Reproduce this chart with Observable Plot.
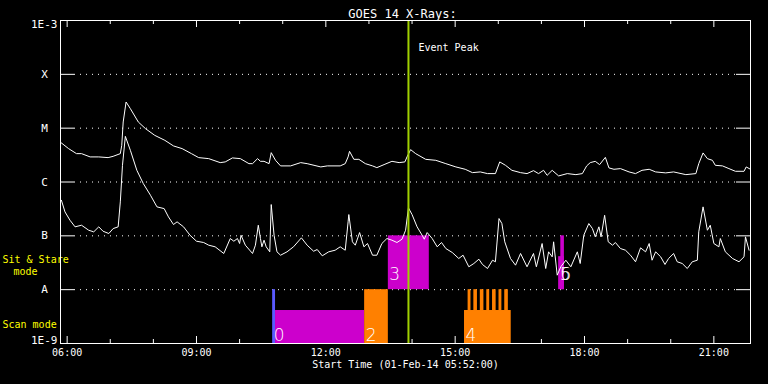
<!DOCTYPE html>
<html><head><meta charset="utf-8">
<script src="https://cdn.jsdelivr.net/npm/d3@7"></script>
<script src="https://cdn.jsdelivr.net/npm/@observablehq/plot@0.6"></script>
<style>html,body{margin:0;padding:0;background:#000;} svg{display:block}</style>
</head><body><div id="chart"></div>
<script>
// GOES 14 long channel (1-8 Å), log10 flux (W/m^2)
const longTime = ["05:52","06:02","06:13","06:20","06:32","06:44","06:57","07:04","07:14","07:16",
"07:18","07:22","07:28","07:39","07:49","08:02","08:16","08:28","08:40","08:53",
"09:03","09:17","09:33","09:40","09:50","10:01","10:13","10:18","10:25","10:29",
"10:34","10:41","10:44","10:50","10:57","11:11","11:25","11:34","11:53","12:02",
"12:20","12:27","12:31","12:33","12:39","12:46","12:55","13:05","13:11","13:21",
"13:32","13:42","13:50","13:53","13:58","14:05","14:19","14:33","14:47","15:01",
"15:14","15:24","15:35","15:45","15:56","16:02","16:10","16:19","16:31","16:40",
"16:49","16:56","17:03","17:08","17:15","17:24","17:36","17:48","17:57","18:03",
"18:08","18:15","18:21","18:29","18:34","18:41","18:50","19:02","19:11","19:20",
"19:30","19:39","19:53","20:04","20:21","20:35","20:39","20:45","20:51","20:58",
"21:02","21:12","21:21","21:30","21:42","21:45","21:51"];
const longLog = [-5.275,-5.38,-5.473,-5.473,-5.534,-5.534,-5.547,-5.523,-5.473,-5.319,
-4.885,-4.514,-4.638,-4.885,-5.009,-5.134,-5.226,-5.33,-5.38,-5.473,
-5.547,-5.566,-5.64,-5.627,-5.553,-5.566,-5.659,-5.659,-5.566,-5.616,
-5.616,-5.659,-5.455,-5.597,-5.701,-5.701,-5.64,-5.659,-5.72,-5.701,
-5.701,-5.659,-5.534,-5.43,-5.579,-5.579,-5.659,-5.701,-5.733,-5.677,
-5.616,-5.64,-5.627,-5.534,-5.399,-5.473,-5.579,-5.597,-5.659,-5.72,
-5.764,-5.826,-5.813,-5.844,-5.844,-5.627,-5.69,-5.783,-5.826,-5.844,
-5.789,-5.844,-5.783,-5.876,-5.783,-5.887,-5.844,-5.863,-5.844,-5.701,
-5.64,-5.616,-5.677,-5.542,-5.738,-5.764,-5.751,-5.813,-5.844,-5.783,
-5.764,-5.813,-5.831,-5.813,-5.863,-5.844,-5.659,-5.46,-5.566,-5.597,
-5.69,-5.701,-5.751,-5.801,-5.801,-5.72,-5.764];

// GOES 14 short channel (0.5-4 Å), log10 flux (W/m^2)
const shortTime = ["05:52","05:57","06:04","06:11","06:20","06:30","06:37","06:44","06:50","06:58",
"07:04","07:11","07:14","07:17","07:21","07:28","07:37","07:46","07:56","08:05",
"08:15","08:21","08:28","08:33","08:42","08:51","09:00","09:10","09:17","09:26",
"09:38","09:47","09:52","09:57","10:00","10:02","10:08","10:18","10:22","10:26",
"10:29","10:31","10:34","10:37","10:42","10:44","10:48","10:52","10:57","11:06",
"11:15","11:26","11:34","11:43","11:48","11:55","12:04","12:13","12:20","12:27",
"12:31","12:32","12:37","12:41","12:47","12:53","12:58","13:05","13:11","13:18",
"13:25","13:32","13:39","13:46","13:51","13:55","14:00","14:07","14:14","14:17",
"14:21","14:28","14:35","14:41","14:47","14:56","15:05","15:11","15:19","15:26",
"15:33","15:38","15:45","15:52","15:56","16:01","16:05","16:09","16:17","16:24",
"16:31","16:40","16:49","16:53","17:01","17:06","17:10","17:15","17:17","17:22",
"17:27","17:34","17:41","17:50","17:54","17:59","18:06","18:11","18:15","18:20",
"18:23","18:28","18:33","18:39","18:43","18:50","18:57","19:04","19:11","19:18",
"19:25","19:30","19:34","19:39","19:46","19:52","19:57","20:04","20:09","20:16",
"20:23","20:30","20:37","20:39","20:45","20:51","20:55","21:00","21:07","21:09",
"21:16","21:26","21:35","21:42","21:44","21:49"];
const shortLog = [-6.34,-6.555,-6.711,-6.833,-6.803,-6.896,-6.926,-6.833,-6.915,-6.957,
-6.865,-6.833,-6.369,-5.69,-5.152,-5.412,-5.783,-6.03,-6.247,-6.462,
-6.494,-6.648,-6.79,-6.74,-6.833,-6.989,-7.1,-7.124,-7.174,-7.204,
-7.328,-7.05,-7.1,-7.05,-7.143,-6.989,-7.174,-7.328,-7.174,-6.803,
-7.05,-7.204,-7.081,-7.204,-7.297,-6.419,-6.989,-7.297,-7.36,-7.297,
-7.204,-7.037,-7.174,-7.286,-7.254,-7.371,-7.297,-7.267,-7.204,-7.267,
-6.74,-6.605,-7.111,-7.174,-6.939,-7.204,-7.143,-7.36,-7.36,-7.143,
-7.05,-7.081,-7.124,-7.063,-6.896,-6.481,-6.605,-6.833,-6.989,-7.063,
-6.939,-7.05,-7.204,-7.124,-7.236,-7.31,-7.421,-7.36,-7.575,-7.514,
-7.434,-7.532,-7.607,-7.453,-7.482,-6.679,-6.772,-7.111,-7.421,-7.545,
-7.328,-7.575,-7.328,-7.575,-7.143,-7.607,-7.297,-7.39,-7.111,-7.731,
-7.575,-7.453,-7.575,-7.297,-7.514,-6.989,-6.772,-6.865,-7.019,-6.833,
-7.019,-6.618,-7.111,-7.174,-7.124,-7.236,-7.267,-7.36,-7.482,-7.223,
-7.297,-7.143,-7.453,-7.297,-7.39,-7.532,-7.421,-7.328,-7.482,-7.514,
-7.607,-7.482,-7.453,-6.926,-6.462,-6.896,-6.803,-7.143,-7.204,-7.05,
-7.297,-7.421,-7.482,-7.39,-7.019,-7.267];

// Axis levels and labels
const classLevels = [1e-4, 1e-5, 1e-6, 1e-7, 1e-8];
const classLabels = ["X", "M", "C", "B", "A"];
const majorTicks = ["06:00","09:00","12:00","15:00","18:00","21:00"];
const minorTicks = ["07:00","08:00","10:00","11:00","13:00","14:00","16:00","17:00","19:00","20:00"];
const timeDomain = ["05:50:45", "21:51:00"];

// Observations (mode timeline)
const obsKind  = ["k0","k1","k2","k1","k2","k1","k1"];
const obsStart = ["10:46","10:50","12:54","13:27","15:13","17:24","17:27"];
const obsEnd   = ["10:50","12:54","13:27","14:24","16:18","17:32","17:32"];
const obsLow   = [1e-9, 1e-9, 1e-9, 1e-8, 1e-9, 1e-8, 1e-8];
const obsHigh  = [1e-8, 4.1e-9, 1e-8, 1e-7, 4.1e-9, 4.1e-8, 1e-7];
const toothStart = ["15:18","15:26","15:35","15:44","15:52","16:01","16:09"];
const toothEnd   = ["15:22","15:31","15:40","15:48","15:57","16:05","16:14"];
const obsLabel     = ["0","2","3","4","5","6"];
const obsLabelTime = ["10:46","12:54","13:27","15:13","17:24","17:25"];
const obsLabelMode = ["scan","scan","sit","scan","sit","sit"];
const eventPeak = "13:55";

const t = s => { const p = s.split(":").map(Number); return new Date(Date.UTC(2014, 1, 1, p[0], p[1], p[2] || 0)); };

const longData = longTime.map((s, i) => ({time: t(s), flux: Math.pow(10, longLog[i])}));
const shortData = shortTime.map((s, i) => ({time: t(s), flux: Math.pow(10, shortLog[i])}));
const obs = obsKind.map((k, i) => ({kind: k, start: t(obsStart[i]), end: t(obsEnd[i]), lo: obsLow[i], hi: obsHigh[i]}));
const teeth = toothStart.map((s, i) => ({kind: "k2", start: t(s), end: t(toothEnd[i]), lo: 4.1e-9, hi: 1e-8}));
const labels = obsLabel.map((s, i) => ({text: s, time: t(obsLabelTime[i]), mode: obsLabelMode[i]}));
const levels = classLevels.map((v, i) => ({v, label: classLabels[i]}));
const majors = majorTicks.map(s => ({time: t(s), label: s}));
const minors = minorTicks.map(t);

const font = "DejaVu Sans Mono";
const chart = Plot.plot({
  width: 768, height: 384,
  marginLeft: 60, marginRight: 18, marginTop: 20, marginBottom: 41,
  x: {type: "utc", domain: timeDomain.map(t), axis: null},
  y: {type: "log", domain: [1e-9, 1e-3], axis: null},
  color: {domain: ["k0","k1","k2"], range: ["#5a5aff", "#cc00cc", "#ff8000"]},
  style: {background: "#000", color: "#fff", fontFamily: font, fontSize: "10px"},
  marks: [
    // dotted class grid lines
    Plot.ruleY(levels, {y: "v", stroke: "#fff", strokeDasharray: "1,5", insetLeft: 14, insetRight: 14}),
    // y ticks, left and right
    Plot.ruleY(levels, {y: "v", stroke: "#fff", insetRight: 676}),
    Plot.ruleY(levels, {y: "v", stroke: "#fff", insetLeft: 676}),
    // x ticks, bottom and top
    Plot.ruleX(majors, {x: "time", stroke: "#fff", insetTop: 316}),
    Plot.ruleX(majors, {x: "time", stroke: "#fff", insetBottom: 316}),
    Plot.ruleX(minors, {x: d => d, stroke: "#fff", insetTop: 319}),
    Plot.ruleX(minors, {x: d => d, stroke: "#fff", insetBottom: 319}),
    // observation bars
    Plot.rect(obs, {x1: "start", x2: "end", y1: "lo", y2: "hi", fill: "kind"}),
    Plot.rect(teeth, {x1: "start", x2: "end", y1: "lo", y2: "hi", fill: "kind"}),
    // GOES curves
    Plot.line(longData, {x: "time", y: "flux", stroke: "#fff", strokeWidth: 1}),
    Plot.line(shortData, {x: "time", y: "flux", stroke: "#fff", strokeWidth: 1}),
    // event peak
    Plot.ruleX([t(eventPeak)], {x: d => d, stroke: "#a0d000", strokeWidth: 2}),
    Plot.text([t(eventPeak)], {x: d => d, text: () => "Event Peak", frameAnchor: "top", dy: 23, dx: 10, textAnchor: "start", fill: "#fff", fontSize: 10}),
    // bar labels
    Plot.text(labels.filter(d => d.mode === "scan"), {x: "time", y: () => 1e-9, text: "text", textAnchor: "start", lineAnchor: "bottom", dx: 1, dy: -3, fill: "#fff", fontSize: 17, fontFamily: "DejaVu Sans", fontWeight: 200}),
    Plot.text(labels.filter(d => d.mode === "sit"), {x: "time", y: () => 1e-8, text: "text", textAnchor: "start", lineAnchor: "bottom", dx: 1, dy: -10, fill: "#fff", fontSize: 17, fontFamily: "DejaVu Sans", fontWeight: 200}),
    // y labels
    Plot.text(levels, {y: "v", text: "label", frameAnchor: "left", dx: -16, textAnchor: "middle", fill: "#fff", fontSize: 11}),
    Plot.text([1e-3], {y: d => d, text: () => "1E-3", frameAnchor: "left", dx: -3, dy: 4, textAnchor: "end", fill: "#fff", fontSize: 11}),
    Plot.text([1e-9], {y: d => d, text: () => "1E-9", frameAnchor: "left", dx: -3, dy: -3, textAnchor: "end", fill: "#fff", fontSize: 11}),
    // mode labels
    Plot.text([Math.sqrt(1e-8 * 1e-7)], {y: d => d, text: () => "Sit & Stare", frameAnchor: "left", dx: -58, dy: -3, textAnchor: "start", fill: "#ffff00", fontSize: 10}),
    Plot.text([Math.sqrt(1e-8 * 1e-7)], {y: d => d, text: () => "mode", frameAnchor: "left", dx: -47, dy: 9, textAnchor: "start", fill: "#ffff00", fontSize: 10}),
    Plot.text([Math.sqrt(1e-9 * 1e-8)], {y: d => d, text: () => "Scan mode", frameAnchor: "left", dx: -58, dy: 8, textAnchor: "start", fill: "#ffff00", fontSize: 10}),
    // x labels
    Plot.text(majors, {x: "time", text: "label", frameAnchor: "bottom", dy: 12, fill: "#fff", fontSize: 10}),
    Plot.text(["Start Time (01-Feb-14 05:52:00)"], {text: d => d, frameAnchor: "bottom", dy: 24, fill: "#fff", fontSize: 10}),
    Plot.text(["GOES 14 X-Rays:"], {text: d => d, frameAnchor: "top", dy: -11, dx: -3, fill: "#fff", fontSize: 12}),
    Plot.frame({stroke: "#fff"})
  ]
});
document.getElementById("chart").appendChild(chart);
</script>
</body></html>
